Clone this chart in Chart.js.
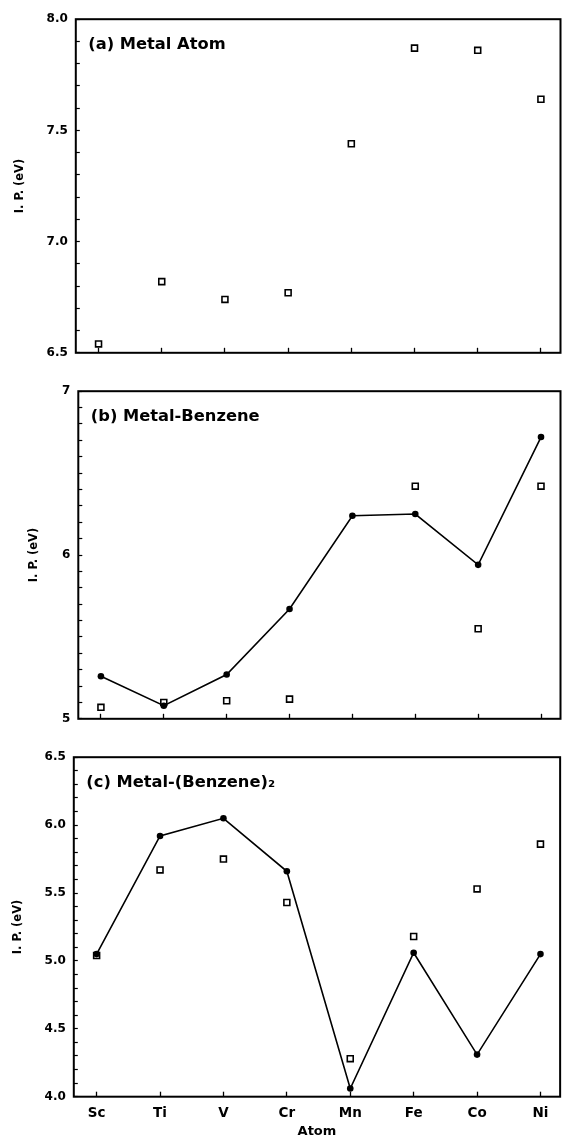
<!DOCTYPE html>
<html>
<head>
<meta charset="utf-8">
<title>I.P. of metal, metal-benzene and metal-(benzene)2</title>
<script src="https://cdn.jsdelivr.net/npm/chart.js@4.4.1/dist/chart.umd.min.js"></script>
<style>
  html, body { margin: 0; padding: 0; background: #fff; }
  #wrap { position: relative; width: 562px; height: 1138px; overflow: hidden; }
  canvas { position: absolute; left: 0; }
</style>
</head>
<body>
<div id="wrap">
  <canvas id="chartA" width="562" height="372" style="top:0px"></canvas>
  <canvas id="chartB" width="562" height="366" style="top:372px"></canvas>
  <canvas id="chartC" width="562" height="400" style="top:738px"></canvas>
</div>
<script>
// values
const atoms = ['Sc', 'Ti', 'V', 'Cr', 'Mn', 'Fe', 'Co', 'Ni'];

// (a) metal atom - open squares
const atomIP = [6.54, 6.82, 6.74, 6.77, 7.44, 7.87, 7.86, 7.64];

// (b) metal-benzene - filled circles joined by a line, open squares
const benzeneLine = [5.26, 5.08, 5.27, 5.67, 6.24, 6.25, 5.94, 6.72];
const benzeneSquares = [5.07, 5.10, 5.11, 5.12, null, 6.42, 5.55, 6.42];

// (c) metal-(benzene)2
const bisLine = [5.05, 5.92, 6.05, 5.66, 4.06, 5.06, 4.31, 5.05];
const bisSquares = [5.04, 5.67, 5.75, 5.43, 4.28, 5.18, 5.53, 5.86];

// labelled y ticks (minor ticks every 0.1 are unlabelled)
const yTicksA = ['6.5', '7.0', '7.5', '8.0'];
const yTicksB = ['5', '6', '7'];
const yTicksC = ['4.0', '4.5', '5.0', '5.5', '6.0', '6.5'];

Chart.defaults.font.family = "'DejaVu Sans', sans-serif";
Chart.defaults.font.weight = 'bold';
Chart.defaults.color = '#000';
Chart.defaults.animation = false;

function toPoints(values) {
  return values.map((v, i) => ({ x: i, y: v }));
}

// box round the plot area and the caption in its top-left corner
const framePlugin = {
  id: 'frame',
  afterDraw(chart, args, opts) {
    const { ctx, chartArea: a } = chart;
    ctx.save();
    ctx.strokeStyle = '#000';
    ctx.lineWidth = 2;
    ctx.strokeRect(a.left, a.top, a.right - a.left, a.bottom - a.top);
    ctx.fillStyle = '#000';
    ctx.font = "bold 16.3px 'DejaVu Sans'";
    ctx.textBaseline = 'alphabetic';
    ctx.fillText(opts.caption, a.left + 12.5, a.top + 30);
    ctx.restore();
  }
};

function yScale(min, max, labels, width, titlePad) {
  return {
    type: 'linear',
    position: 'left',
    min: min,
    max: max,
    ticks: {
      stepSize: 0.1,
      autoSkip: false,
      padding: 12,
      font: { size: 12, weight: 'bold' },
      callback: (v) => labels.find(t => Math.abs(parseFloat(t) - v) < 1e-6) || ''
    },
    grid: { drawOnChartArea: false, tickLength: -4, tickColor: '#000', tickWidth: 1.2 },
    border: { display: false },
    title: {
      display: true,
      text: 'I. P. (eV)',
      font: { size: 11.5, weight: 'bold', lineHeight: 1 },
      padding: { top: titlePad, bottom: 0 }
    },
    afterFit: (s) => { s.width = width; }
  };
}

function xScale(showLabels, height) {
  return {
    type: 'linear',
    position: 'bottom',
    min: -0.36,
    max: 7.31,
    afterBuildTicks: (s) => { s.ticks = atoms.map((a, i) => ({ value: i })); },
    ticks: {
      display: showLabels,
      autoSkip: false,
      maxRotation: 0,
      padding: 13.5,
      font: { size: 13.5, weight: 'bold' },
      callback: (v) => atoms[v] || ''
    },
    grid: { drawOnChartArea: false, tickLength: -5, tickColor: '#000', tickWidth: 1.3 },
    border: { display: false },
    title: {
      display: showLabels,
      text: 'Atom',
      font: { size: 13, weight: 'bold', lineHeight: 1 },
      padding: { top: 0, bottom: 0 }
    },
    afterFit: (s) => { s.height = height; }
  };
}

function lineSet(values) {
  return {
    data: toPoints(values),
    showLine: true,
    borderColor: '#000',
    borderWidth: 1.6,
    tension: 0,
    pointStyle: 'circle',
    pointRadius: 3.3,
    pointBackgroundColor: '#000',
    pointBorderWidth: 0
  };
}

function squareSet(values) {
  return {
    data: toPoints(values),
    showLine: false,
    pointStyle: 'rect',
    pointRadius: 4.2,
    pointBackgroundColor: '#fff',
    pointBorderColor: '#000',
    pointBorderWidth: 1.6
  };
}

function makePanel(id, datasets, caption, y, x, padTop) {
  return new Chart(document.getElementById(id), {
    type: 'scatter',
    data: { datasets: datasets },
    options: {
      responsive: false,
      layout: { autoPadding: false, padding: { top: padTop, right: 1.5, bottom: 0, left: 0 } },
      plugins: {
        legend: { display: false },
        tooltip: { enabled: false },
        frame: { caption: caption }
      },
      scales: { x: x, y: y }
    },
    plugins: [framePlugin]
  });
}

makePanel('chartA', [squareSet(atomIP)], '(a) Metal Atom',
  yScale(6.5, 8.0, yTicksA, 75.8, 14), xScale(false, 10.3), 18.2);

makePanel('chartB', [lineSet(benzeneLine), squareSet(benzeneSquares)], '(b) Metal-Benzene',
  yScale(5, 7, yTicksB, 78.3, 28), xScale(false, 9.7), 14.5);

makePanel('chartC', [lineSet(bisLine), squareSet(bisSquares)], '(c) Metal-(Benzene)\u2082',
  yScale(4.0, 6.5, yTicksC, 73.8, 12.3), xScale(true, 41.3), 13.7);
</script>
</body>
</html>
